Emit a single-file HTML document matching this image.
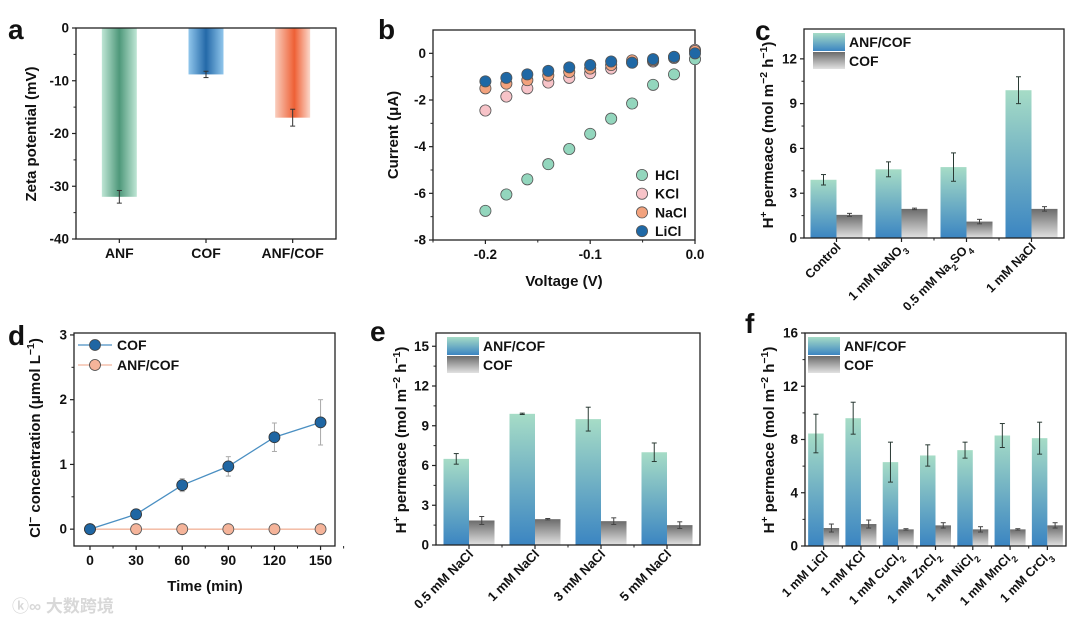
<!DOCTYPE html>
<html><head><meta charset="utf-8">
<style>
html,body{margin:0;padding:0;background:#fff;}
svg{display:block;font-family:"Liberation Sans","Noto Sans CJK SC",sans-serif;font-weight:bold;}
</style></head>
<body>
<svg id="fig" width="1080" height="625" viewBox="0 0 1080 625" xmlns="http://www.w3.org/2000/svg">
<defs>
<linearGradient id="gAC" x1="0" y1="0" x2="0" y2="1"><stop offset="0" stop-color="#a6dcc6"/><stop offset="1" stop-color="#3b85c2"/></linearGradient>
<linearGradient id="gC" x1="0" y1="0" x2="0" y2="1"><stop offset="0" stop-color="#6b6b6b"/><stop offset="1" stop-color="#e2e2e2"/></linearGradient>
<linearGradient id="gA1" x1="0" y1="0" x2="1" y2="0"><stop offset="0" stop-color="#bfe6d5"/><stop offset="0.5" stop-color="#4e987a"/><stop offset="1" stop-color="#bfe6d5"/></linearGradient>
<linearGradient id="gA2" x1="0" y1="0" x2="1" y2="0"><stop offset="0" stop-color="#90c6ec"/><stop offset="0.5" stop-color="#2469a8"/><stop offset="1" stop-color="#90c6ec"/></linearGradient>
<linearGradient id="gA3" x1="0" y1="0" x2="1" y2="0"><stop offset="0" stop-color="#f9cdbd"/><stop offset="0.55" stop-color="#ee6035"/><stop offset="1" stop-color="#fbd8cb"/></linearGradient>
</defs>
</svg>
<script>
// ---------- data ----------
const aCats = ["ANF","COF","ANF/COF"];
const aVals = [-32, -8.8, -17];
const aErrs = [1.2, 0.6, 1.6];
const aTicks = [0,-10,-20,-30,-40];

const bX = [-0.2,-0.18,-0.16,-0.14,-0.12,-0.1,-0.08,-0.06,-0.04,-0.02,0];
const bHCl = [-6.75,-6.05,-5.4,-4.75,-4.1,-3.45,-2.8,-2.15,-1.35,-0.9,-0.25];
const bKCl = [-2.45,-1.85,-1.5,-1.25,-1.05,-0.85,-0.65,-0.4,-0.35,-0.2,0.15];
const bNaCl = [-1.5,-1.3,-1.15,-0.95,-0.8,-0.65,-0.5,-0.3,-0.3,-0.15,0.1];
const bLiCl = [-1.2,-1.05,-0.9,-0.75,-0.6,-0.5,-0.35,-0.4,-0.25,-0.15,0.0];
const bYTicks = [0,-2,-4,-6,-8];
const bXTicks = [-0.2,-0.1,0.0];

const cCats = ["Control","1 mM NaNO|3","0.5 mM Na|2|SO|4","1 mM NaCl"];
const cAC = [3.9,4.6,4.75,9.9];
const cACErr = [0.35,0.5,0.95,0.9];
const cCOF = [1.55,1.95,1.1,1.95];
const cCOFErr = [0.1,0.05,0.15,0.15];
const cTicks = [0,3,6,9,12];

const dX = [0,30,60,90,120,150];
const dCOF = [0,0.23,0.68,0.97,1.42,1.65];
const dCOFErr = [0,0.03,0.1,0.15,0.22,0.35];
const dANF = [0,0,0,0,0,0];
const dYTicks = [0,1,2,3];

const eCats = ["0.5 mM NaCl","1 mM NaCl","3 mM NaCl","5 mM NaCl"];
const eAC = [6.5,9.9,9.5,7.0];
const eACErr = [0.4,0.05,0.9,0.7];
const eCOF = [1.85,1.95,1.8,1.5];
const eCOFErr = [0.3,0.05,0.25,0.25];
const eTicks = [0,3,6,9,12,15];

const fCats = ["1 mM LiCl","1 mM KCl","1 mM CuCl|2","1 mM ZnCl|2","1 mM NiCl|2","1 mM MnCl|2","1 mM CrCl|3"];
const fAC = [8.45,9.6,6.3,6.8,7.2,8.3,8.1];
const fACErr = [1.45,1.2,1.5,0.8,0.6,0.9,1.2];
const fCOF = [1.35,1.65,1.25,1.55,1.25,1.25,1.55];
const fCOFErr = [0.3,0.3,0.05,0.2,0.2,0.05,0.2];
const fTicks = [0,4,8,12,16];

// ---------- helpers ----------
const NS = "http://www.w3.org/2000/svg";
const svg = document.getElementById('fig');
function mk(tag, attrs, parent){
  const e = document.createElementNS(NS, tag);
  for (const k in attrs) e.setAttribute(k, attrs[k]);
  (parent||svg).appendChild(e);
  return e;
}
function lin(d0,d1,r0,r1){ return v => r0 + (v-d0)*(r1-r0)/(d1-d0); }
function txt(x,y,s,size,anchor,parent){
  const t = mk('text',{x:x,y:y,'font-size':size,'text-anchor':anchor||'middle',fill:'#111'},parent);
  t.textContent = s;
  return t;
}
function frame(x0,y0,x1,y1,g){
  const r = mk('rect',{x:x0,y:y0,width:x1-x0,height:y1-y0,fill:'none',stroke:'#222','stroke-width':1.3},g);
  
  
}
function yAxis(g,x0,ys,ticks,fmt){
  ticks.forEach((v,i)=>{
    const y = ys(v);
    mk('line',{x1:x0-4,x2:x0,y1:y,y2:y,stroke:'#222','stroke-width':1.2},g);
    const t = txt(x0-7,y+4.5,fmt?fmt(v):String(v),13.5,'end',g);
    
    
    if(i<ticks.length-1){
      const ym = ys((v+ticks[i+1])/2);
      mk('line',{x1:x0-2.5,x2:x0,y1:ym,y2:ym,stroke:'#222','stroke-width':1},g);
    }
  });
}
function vtitle(g,x,y,parts,size){
  const t = mk('text',{x:0,y:0,'font-size':size||14,'text-anchor':'middle',fill:'#111',transform:`translate(${x},${y}) rotate(-90)`},g);
  parts.forEach(p=>{
    const s = mk('tspan',{},t);
    if(p.sup){ s.setAttribute('baseline-shift','super'); s.setAttribute('font-size',(size||14)*0.7); }
    s.textContent = p.t;
  });
  return t;
}
function permTitle(g,x,y){
  const t = vtitle(g,x,y,[{t:'H'},{t:'+',sup:1},{t:' permeace (mol m'},{t:'\u22122',sup:1},{t:' h'},{t:'\u22121',sup:1},{t:')'}],15);
  
  
}
function rotLabel(g,x,y,s,size){
  const t = mk('text',{x:0,y:0,'font-size':size,'text-anchor':'end',fill:'#111',transform:`translate(${x},${y}) rotate(-45)`},g);
  const parts = s.split('|');
  parts.forEach((p,i)=>{
    const sp = mk('tspan',{},t);
    if(i%2===1 && /^\d$/.test(p)){ sp.setAttribute('baseline-shift','sub'); sp.setAttribute('font-size',size*0.72); }
    sp.textContent = p;
  });
  
  
}
function errBar(g,x,y1,y2,w,col){
  mk('line',{x1:x,x2:x,y1:y1,y2:y2,stroke:col||'#333','stroke-width':1},g);
  mk('line',{x1:x-w,x2:x+w,y1:y1,y2:y1,stroke:col||'#333','stroke-width':1},g);
  mk('line',{x1:x-w,x2:x+w,y1:y2,y2:y2,stroke:col||'#333','stroke-width':1},g);
}
function letter(x,y,s){
  const t = txt(x,y,s,28,'start');
  
  
}

// ---------- panel a ----------
(function(){
  const g = mk('g',{});
  
  
  const X0=76,X1=336,Y0=28,Y1=239;
  const ys = lin(0,-40,Y0,Y1);
  const band = (X1-X0)/aCats.length;
  const fills = ['url(#gA1)','url(#gA2)','url(#gA3)'];
  aCats.forEach((c,i)=>{
    const cx = X0+band*(i+0.5);
    const r = mk('rect',{x:cx-17.5,y:ys(0),width:35,height:ys(aVals[i])-ys(0),fill:fills[i]},g);
    
    
    errBar(g,cx,ys(aVals[i]-aErrs[i]),ys(aVals[i]+aErrs[i]),2.5,'#333');
    mk('line',{x1:cx,x2:cx,y1:Y1,y2:Y1+4,stroke:'#222','stroke-width':1.2},g);
    const t = txt(cx,Y1+19,c,14,'middle',g);
    
    
  });
  frame(X0,Y0,X1,Y1,g);
  yAxis(g,X0,ys,aTicks);
  const t = vtitle(g,36,134,[{t:'Zeta potential (mV)'}],15);
  
  
})();
letter(8,39,'a');

// ---------- panel b ----------
(function(){
  const g = mk('g',{});
  
  
  const X0=433,X1=695,Y0=30,Y1=240;
  const xs = lin(-0.25,0,X0,X1), ys = lin(1,-8,Y0,Y1);
  frame(X0,Y0,X1,Y1,g);
  yAxis(g,X0,ys,bYTicks);
  bXTicks.forEach(v=>{
    mk('line',{x1:xs(v),x2:xs(v),y1:Y1,y2:Y1+4,stroke:'#222','stroke-width':1.2},g);
    const t = txt(xs(v),Y1+19,v.toFixed(1),13.5,'middle',g);
    
    
  });
  [-0.25,-0.15,-0.05].forEach(v=>mk('line',{x1:xs(v),x2:xs(v),y1:Y1,y2:Y1+2.5,stroke:'#222'},g));
  const series = [['HCl',bHCl,'#93d6bd'],['KCl',bKCl,'#f7c3c8'],['NaCl',bNaCl,'#f2a27d'],['LiCl',bLiCl,'#1f68a5']];
  series.forEach(([n,arr,col],si)=>{
    arr.forEach((v,i)=>{
      const c = mk('circle',{cx:xs(bX[i]),cy:ys(v),r:5.6,fill:col,stroke:'#555','stroke-width':0.8},g);
      
      
    });
    const ly = 175+si*18.7;
    const lc = mk('circle',{cx:642,cy:ly,r:5.6,fill:col,stroke:'#555','stroke-width':0.8},g);
    
    
    const lt = txt(655,ly+5,n,14,'start',g);
    
    
  });
  const t = vtitle(g,398,135,[{t:'Current (\u03bcA)'}],15);
  
  
  const xt = txt(564,286,'Voltage (V)',15,'middle',g);
  
  
})();
letter(378,39,'b');

// ---------- grouped bar panels ----------
function grouped(name,X0,X1,Y0,Y1,ymax,cats,ac,acErr,cof,cofErr,ticks,bw,labSize,legX,legY){
  const g = mk('g',{});
  
  
  const ys = lin(0,ymax,Y1,Y0);
  const band = (X1-X0)/cats.length;
  cats.forEach((c,i)=>{
    const cx = X0+band*(i+0.5);
    const r1 = mk('rect',{x:cx-bw,y:ys(ac[i]),width:bw,height:Y1-ys(ac[i]),fill:'url(#gAC)'},g);
    
    
    const r2 = mk('rect',{x:cx,y:ys(cof[i]),width:bw,height:Y1-ys(cof[i]),fill:'url(#gC)'},g);
    
    
    errBar(g,cx-bw/2,ys(ac[i]+acErr[i]),ys(ac[i]-acErr[i]),2.5,'#2a3a34');
    errBar(g,cx+bw/2,ys(cof[i]+cofErr[i]),ys(cof[i]-cofErr[i]),2.5,'#444');
    mk('line',{x1:cx,x2:cx,y1:Y1,y2:Y1+4,stroke:'#222','stroke-width':1.2},g);
    if(i>0) mk('line',{x1:X0+band*i,x2:X0+band*i,y1:Y1,y2:Y1+2.5,stroke:'#222'},g);
    rotLabel(g,cx+5,Y1+10,c,labSize);
  });
  frame(X0,Y0,X1,Y1,g);
  yAxis(g,X0,ys,ticks);
  const s1 = mk('rect',{x:legX,y:legY,width:32,height:18,fill:'url(#gAC)'},g);
  
  
  const s2 = mk('rect',{x:legX,y:legY+19,width:32,height:17,fill:'url(#gC)'},g);
  
  
  const t1 = txt(legX+36,legY+14,'ANF/COF',14,'start',g);
  
  
  const t2 = txt(legX+36,legY+33,'COF',14,'start',g);
  
  
  return g;
}
const gc = grouped('panel-c-permeance-chart',804,1064,29,238,14,cCats,cAC,cACErr,cCOF,cCOFErr,cTicks,26,12.5,813,33);
permTitle(gc,773,135);
letter(755,40,'c');

const ge = grouped('panel-e-permeance-chart',436,700,333,545,16,eCats,eAC,eACErr,eCOF,eCOFErr,eTicks,25.5,13,447,337);
permTitle(ge,406,440);
letter(370,341,'e');

const gf = grouped('panel-f-permeance-chart',805,1066,333,546,16,fCats,fAC,fACErr,fCOF,fCOFErr,fTicks,15.5,12.5,808,337);
permTitle(gf,774,440);
letter(745,333,'f');

// ---------- panel d ----------
(function(){
  const g = mk('g',{});
  
  
  const X0=74,X1=335,Y0=333,Y1=546;
  const xs = lin(-10.4,159.4,X0,X1), ys = lin(-0.26,3.03,Y1,Y0);
  frame(X0,Y0,X1,Y1,g);
  yAxis(g,X0,ys,dYTicks);
  dX.forEach((v,i)=>{
    mk('line',{x1:xs(v),x2:xs(v),y1:Y1,y2:Y1+4,stroke:'#222','stroke-width':1.2},g);
    mk('line',{x1:xs(v+15),x2:xs(v+15),y1:Y1,y2:Y1+2.5,stroke:'#222'},g);
    const t = txt(xs(v),Y1+19,String(v),14,'middle',g);
    
    
  });
  const lineA = mk('polyline',{points:dX.map((v,i)=>xs(v)+','+ys(dANF[i])).join(' '),fill:'none',stroke:'#f2b59c','stroke-width':1.3},g);
  
  
  const lineC = mk('polyline',{points:dX.map((v,i)=>xs(v)+','+ys(dCOF[i])).join(' '),fill:'none',stroke:'#4a8fc2','stroke-width':1.3},g);
  
  
  dX.forEach((v,i)=>{
    if(dCOFErr[i]>0) errBar(g,xs(v),ys(dCOF[i]+dCOFErr[i]),ys(dCOF[i]-dCOFErr[i]),2.5,'#aaa');
  });
  dX.forEach((v,i)=>{
    const p = mk('circle',{cx:xs(v),cy:ys(dANF[i]),r:5.5,fill:'#f5b49a',stroke:'#555','stroke-width':0.8},g);
    
    
  });
  dX.forEach((v,i)=>{
    const p = mk('circle',{cx:xs(v),cy:ys(dCOF[i]),r:5.5,fill:'#1f66a3',stroke:'#333','stroke-width':0.8},g);
    
    
  });
  [['COF','#4a8fc2','#1f66a3',345],['ANF/COF','#f2b59c','#f5b49a',365]].forEach(([n,lc,fc,y])=>{
    mk('line',{x1:78,x2:112,y1:y,y2:y,stroke:lc,'stroke-width':1.3},g);
    const m = mk('circle',{cx:95,cy:y,r:5.5,fill:fc,stroke:'#444','stroke-width':0.8},g);
    
    
    const t = txt(117,y+5,n,14,'start',g);
    
    
  });
  const yt = vtitle(g,40,438,[{t:'Cl'},{t:'\u2212',sup:1},{t:' concentration (\u03bcmol L'},{t:'\u22121',sup:1},{t:')'}],15);
  
  
  const xt = txt(205,591,'Time (min)',15,'middle',g);
  
  
})();
letter(8,345,'d');

// watermark
const wm = txt(12,612,'\u24DA\u221E 大数跨境',17,'start');
wm.setAttribute('fill','#d8d8d8');


</script>
</body></html>
